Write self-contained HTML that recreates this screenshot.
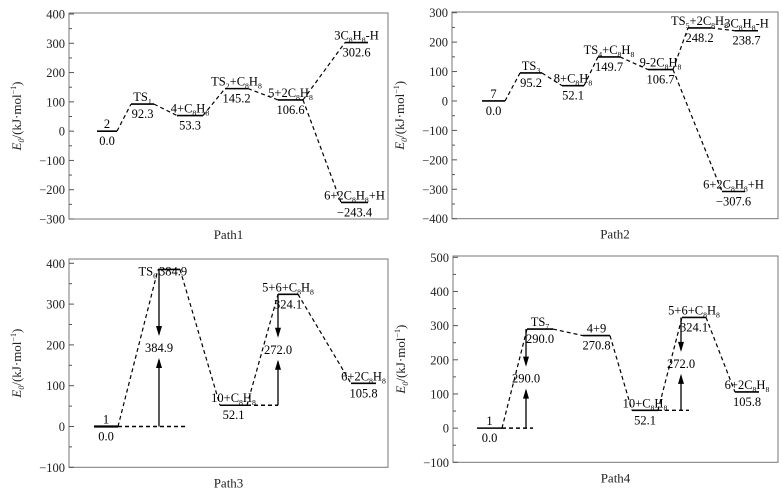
<!DOCTYPE html>
<html><head><meta charset="utf-8">
<style>
html,body{margin:0;padding:0;background:#fff;}
svg{display:block;font-family:"Liberation Serif",serif;}
</style></head>
<body>
<svg id="fig" width="783" height="496" viewBox="0 0 783 496" xmlns="http://www.w3.org/2000/svg"></svg>
<script>
// ---- data ----
const p1Names = ["2","TS_1","4+C_8H_8","TS_2+C_8H_8","5+2C_8H_8","3C_8H_8-H","6+2C_8H_8+H"];
const p1Values = [0.0, 92.3, 53.3, 145.2, 106.6, 302.6, -243.4];
const p1Labels = ["0.0","92.3","53.3","145.2","106.6","302.6","−243.4"];
const p2Names = ["7","TS_3","8+C_8H_8","TS_4+C_8H_8","9-2C_8H_8","TS_5+2C_8H_8","3C_8H_8-H","6+2C_8H_8+H"];
const p2Values = [0.0, 95.2, 52.1, 149.7, 106.7, 248.2, 238.7, -307.6];
const p2Labels = ["0.0","95.2","52.1","149.7","106.7","248.2","238.7","−307.6"];
const p3Names = ["1","TS_6","10+C_8H_8","5+6+C_8H_8","6+2C_8H_8"];
const p3Values = [0.0, 384.9, 52.1, 324.1, 105.8];
const p3Labels = ["0.0","384.9","52.1","324.1","105.8"];
const p3Barriers = ["384.9","272.0"];
const p4Names = ["1","TS_7","4+9","10+C_8H_8","5+6+C_8H_8","6+2C_8H_8"];
const p4Values = [0.0, 290.0, 270.8, 52.1, 324.1, 105.8];
const p4Labels = ["0.0","290.0","270.8","52.1","324.1","105.8"];
const p4Barriers = ["290.0","272.0"];
const ticks1 = [-300,-200,-100,0,100,200,300,400];
const ticks2 = [-400,-300,-200,-100,0,100,200,300];
const ticks3 = [-100,0,100,200,300,400];
const ticks4 = [-100,0,100,200,300,400,500];

// ---- layout ----
const NS="http://www.w3.org/2000/svg";
const svg=document.getElementById('fig');
function mk(tag,attrs,parent){const e=document.createElementNS(NS,tag);for(const k in attrs)e.setAttribute(k,attrs[k]);(parent||svg).appendChild(e);return e;}
function richText(parent,str,x,y,anchor,size){
  size=size||12.5;
  const t=mk('text',{x:x,y:y,'font-size':size,'text-anchor':anchor||'middle',fill:'#000'},parent);
  let i=0,lowered=false;
  while(i<str.length){
    if(str[i]==='_'){
      const s=mk('tspan',{'font-size':size*0.62},t);
      if(!lowered){s.setAttribute('dy',3);lowered=true;}
      s.textContent=str[i+1];i+=2;
    } else {
      let j=i;while(j<str.length&&str[j]!=='_')j++;
      const s=mk('tspan',{},t);
      if(lowered){s.setAttribute('dy',-3);lowered=false;}
      s.textContent=str.slice(i,j);i=j;
    }
  }
  return t;
}
function panel(cfg){
  const g=mk('g',{});
  
  
  const ys=v=>cfg.yTop+(cfg.vMax-v)*(cfg.yBot-cfg.yTop)/(cfg.vMax-cfg.vMin);
  const box=mk('rect',{x:cfg.L,y:cfg.boxTop,width:cfg.R-cfg.L,height:cfg.yBot-cfg.boxTop,fill:'none',stroke:'#777','stroke-width':1},g);
  
  cfg.ticks.forEach(v=>{
    const y=ys(v);
    mk('line',{x1:cfg.L,x2:cfg.L+5,y1:y,y2:y,stroke:'#555'},g);
    const yh=ys(v+50);
    if(v+50<cfg.vMax) mk('line',{x1:cfg.L,x2:cfg.L+3,y1:yh,y2:yh,stroke:'#555'},g);
    const t=mk('text',{x:cfg.L-4,y:y+4.5,'font-size':12.5,'text-anchor':'end',fill:'#222'},g);
    
    t.textContent=(v<0?'−'+(-v):v);
  });
  const yt=mk('text',{x:0,y:0,'font-size':13,'text-anchor':'middle',fill:'#222',transform:`translate(${cfg.L-48},${(cfg.boxTop+cfg.yBot)/2}) rotate(-90)`},g);
  
  const a=mk('tspan',{'font-style':'italic'},yt);a.textContent='E';
  const b=mk('tspan',{'font-size':8,dy:3,'font-style':'italic'},yt);b.textContent='0';
  const c=mk('tspan',{dy:-3},yt);c.textContent='/(kJ·mol';
  const d=mk('tspan',{'font-size':8,dy:-5},yt);d.textContent='−1';
  const e=mk('tspan',{dy:5},yt);e.textContent=')';
  const xt=mk('text',{x:(cfg.L+cfg.R)/2,y:cfg.yBot+20,'font-size':13,'text-anchor':'middle',fill:'#222'},g);
  
  xt.textContent=cfg.title;
  cfg.links.forEach(([i,j])=>{
    const l=mk('line',{x1:cfg.xs[i][1],y1:ys(cfg.values[i]),x2:cfg.xs[j][0],y2:ys(cfg.values[j]),stroke:'#000','stroke-width':1.2,'stroke-dasharray':'4,3'},g);
    
  });
  (cfg.refs||[]).forEach(([i,x2])=>{
    const y=ys(cfg.values[i]);
    const l=mk('line',{x1:cfg.xs[i][1],y1:y,x2:x2,y2:y,stroke:'#000','stroke-width':1.4,'stroke-dasharray':'4,3'},g);
    
  });
  cfg.values.forEach((v,i)=>{
    const y=ys(v),[x1,x2]=cfg.xs[i];
    const l=mk('line',{x1:x1,x2:x2,y1:y,y2:y,stroke:'#000','stroke-width':cfg.thick&&cfg.thick.includes(i)?2.2:1.6},g);
    
    const cx=(x1+x2)/2;
    const ov=(cfg.over||{})[i];
    let n,vl;
    if(ov){n=richText(g,cfg.names[i],ov[0],y+ov[1],'end');vl=richText(g,cfg.labels[i],ov[2],y+ov[3],'start');}
    else{n=richText(g,cfg.names[i],cx,y-3);vl=richText(g,cfg.labels[i],cx,y+14);}
    
    
  });
  (cfg.arrows||[]).forEach(([top,bot,x,lab])=>{
    const yT=ys(cfg.values[top]),yB=ys(cfg.values[bot]);
    const ym=(yT+yB)/2;
    const d1=mk('line',{x1:x,x2:x,y1:yT,y2:ym-14,stroke:'#000','stroke-width':1.3},g);
    
    mk('polygon',{points:`${x-3},${ym-22} ${x+3},${ym-22} ${x},${ym-12}`,fill:'#000'},g);
    const u1=mk('line',{x1:x,x2:x,y1:yB,y2:ym+12,stroke:'#000','stroke-width':1.3},g);
    
    mk('polygon',{points:`${x-3},${ym+20} ${x+3},${ym+20} ${x},${ym+10}`,fill:'#000'},g);
    const t=richText(g,lab,x,ym+4);
    
  });
}
panel({name:'path1-panel',title:'Path1',L:69,R:388,boxTop:13,yTop:14,yBot:219,vMin:-300,vMax:400,ticks:ticks1,
  names:p1Names,values:p1Values,labels:p1Labels,
  xs:[[97,117],[131,154],[177,203],[225,248],[278,303],[345,368],[341,368]],
  links:[[0,1],[1,2],[2,3],[3,4],[4,5],[4,6]]});
panel({name:'path2-panel',title:'Path2',L:452,R:778,boxTop:12,yTop:12.7,yBot:218.7,vMin:-400,vMax:300,ticks:ticks2,
  names:p2Names,values:p2Values,labels:p2Labels,
  xs:[[482,505],[520,542],[562,584],[598,620],[648,673],[688,711],[735,758],[722,745]],
  links:[[0,1],[1,2],[2,3],[3,4],[4,5],[5,6],[4,7]]});
panel({name:'path3-panel',title:'Path3',L:69,R:388,boxTop:259,yTop:263.3,yBot:467.3,vMin:-100,vMax:400,ticks:ticks3,
  names:p3Names,values:p3Values,labels:p3Labels,thick:[0],
  xs:[[94,118],[158,180],[220,247],[278,298],[351,376]],
  links:[[0,1],[1,2],[2,3],[3,4]],refs:[[0,185],[2,278]],
  over:{1:[157,6,159,6]},
  arrows:[[1,0,159,p3Barriers[0]],[3,2,278,p3Barriers[1]]]});
panel({name:'path4-panel',title:'Path4',L:453,R:778,boxTop:256,yTop:257.3,yBot:462.3,vMin:-100,vMax:500,ticks:ticks4,
  names:p4Names,values:p4Values,labels:p4Labels,
  xs:[[477,502],[527,553],[583,610],[632,658],[682,706],[735,759]],
  links:[[0,1],[1,2],[2,3],[3,4],[4,5]],refs:[[0,533],[3,689]],
  arrows:[[1,0,526,p4Barriers[0]],[4,3,681,p4Barriers[1]]]});
</script>
</body></html>
